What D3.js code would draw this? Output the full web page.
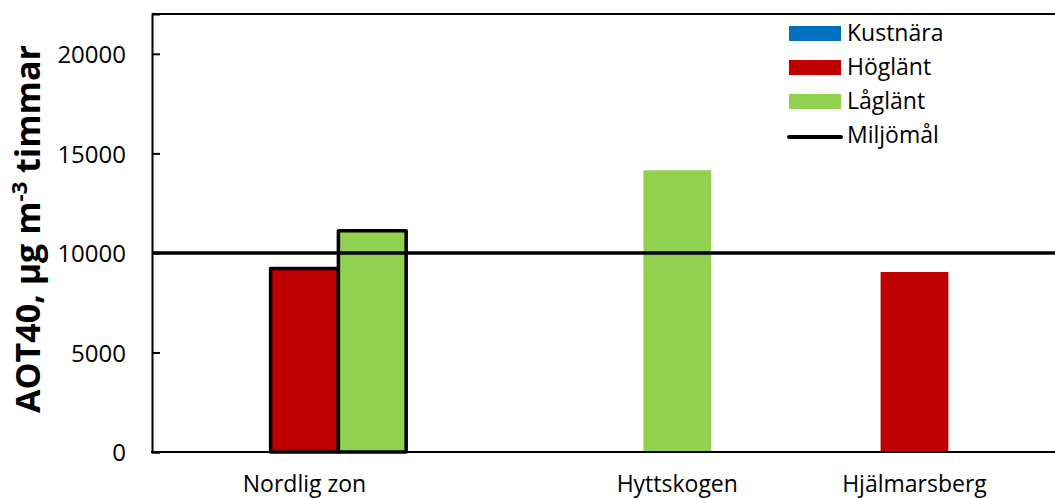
<!DOCTYPE html>
<html>
<head>
<meta charset="utf-8">
<script src="https://cdn.jsdelivr.net/npm/d3@7/dist/d3.min.js"></script>
<style>
  html, body { margin: 0; padding: 0; background: #fff; }
  svg { display: block; }
  text { font-family: "Open Sans", "Noto Sans", sans-serif; fill: #000; }
</style>
</head>
<body>
<svg id="chart" width="1055" height="498"></svg>
<script>
// AOT40 per site, grouped by terrain type
const categories = ["Nordlig zon", "Hyttskogen", "Hjälmarsberg"];
const seriesNames = ["Kustnära", "Höglänt", "Låglänt"];
const kustnara = [null, null, null];
const hoglant = [9220, null, 9040];
const lagland = [11110, 14150, null];
const targetName = "Miljömål";
const targetValue = 10000;
const yTicks = [0, 5000, 10000, 15000, 20000];
const yMax = 22000;

const seriesValues = [kustnara, hoglant, lagland];
const colors = { "Kustnära": "#0070C0", "Höglänt": "#C00000", "Låglänt": "#92D050" };

const svg = d3.select("#chart");
const margin = { left: 152, top: 14, bottom: 46 };
const plotW = 915;                   // three categories; the right edge runs past the view
const plotH = 498 - margin.top - margin.bottom;

const x = d3.scaleBand().domain(categories).range([margin.left, margin.left + plotW]).padding(0);
const xs = d3.scaleBand().domain(seriesNames).range([0, x.bandwidth()])
  .paddingInner(0).paddingOuter(0.75);
const y = d3.scaleLinear().domain([0, yMax]).range([margin.top + plotH, margin.top]);

// Bars
const bars = [];
categories.forEach((c, i) => {
  seriesNames.forEach((s, j) => {
    const v = seriesValues[j][i];
    if (v != null) bars.push({ cat: c, series: s, value: v });
  });
});
const outlined = new Set(["Nordlig zon"]);

svg.append("g").selectAll("rect").data(bars).join("rect")
  .attr("x", d => x(d.cat) + xs(d.series))
  .attr("y", d => y(d.value))
  .attr("width", xs.bandwidth())
  .attr("height", d => y(0) - y(d.value))
  .attr("fill", d => colors[d.series])
  .attr("stroke", d => outlined.has(d.cat) ? "#000" : "none")
  .attr("stroke-width", 3.5)
  .attr("stroke-linejoin", "round");

// Target line
svg.append("line")
  .attr("x1", margin.left).attr("x2", 1055)
  .attr("y1", y(targetValue)).attr("y2", y(targetValue))
  .attr("stroke", "#000").attr("stroke-width", 3.5);

// Frame: top, left axis, bottom axis
svg.append("line").attr("x1", margin.left).attr("x2", 1055)
  .attr("y1", y(yMax)).attr("y2", y(yMax)).attr("stroke", "#000").attr("stroke-width", 2);

const yAxis = d3.axisLeft(y).tickValues(yTicks).tickSize(-8).tickPadding(26).tickFormat(d3.format("d"));
const gy = svg.append("g").attr("transform", `translate(${margin.left},0)`).call(yAxis);
gy.select(".domain").attr("stroke", "#000").attr("stroke-width", 2);
gy.selectAll(".tick line").attr("stroke", "#000").attr("stroke-width", 2);
gy.selectAll(".tick text").attr("font-size", 24).attr("font-family", "Open Sans").attr("dy", "0.36em");

svg.append("line").attr("x1", margin.left - 1).attr("x2", 1055)
  .attr("y1", y(0)).attr("y2", y(0)).attr("stroke", "#000").attr("stroke-width", 2);

// Category labels: centred on the group, or on the bar when a group holds a single bar
function labelX(c) {
  const present = bars.filter(b => b.cat === c);
  if (present.length === 1) return x(c) + xs(present[0].series) + xs.bandwidth() / 2;
  return x(c) + x.bandwidth() / 2;
}
svg.append("g").selectAll("text").data(categories).join("text")
  .attr("x", d => labelX(d))
  .attr("y", 492)
  .attr("text-anchor", "middle")
  .attr("font-size", 23)
  .text(d => d);

// Y axis title
const title = svg.append("text")
  .attr("transform", `translate(40,${(36 + 422) / 2}) rotate(-90)`)
  .attr("text-anchor", "middle")
  .attr("font-size", 34)
  .attr("font-weight", "bold");
title.append("tspan").text("AOT40, µg m");
title.append("tspan").attr("font-size", 22).attr("dy", -13).text("-3");
title.append("tspan").attr("dy", 13).text(" timmar");

// Legend
const legend = svg.append("g").attr("transform", "translate(789,26)");
const legendItems = seriesNames.map(s => ({ name: s, type: "bar" }))
  .concat([{ name: targetName, type: "line" }]);
const li = legend.selectAll("g").data(legendItems).join("g")
  .attr("transform", (d, i) => `translate(0,${i * 34})`);
li.filter(d => d.type === "bar").append("rect")
  .attr("width", 52).attr("height", 15).attr("fill", d => colors[d.name]);
li.filter(d => d.type === "line").append("line")
  .attr("x1", 0).attr("x2", 52).attr("y1", 9).attr("y2", 9)
  .attr("stroke", "#000").attr("stroke-width", 4).attr("stroke-linecap", "round");
li.append("text").attr("x", 58).attr("y", 15).attr("font-size", 23).text(d => d.name);
</script>
</body>
</html>
